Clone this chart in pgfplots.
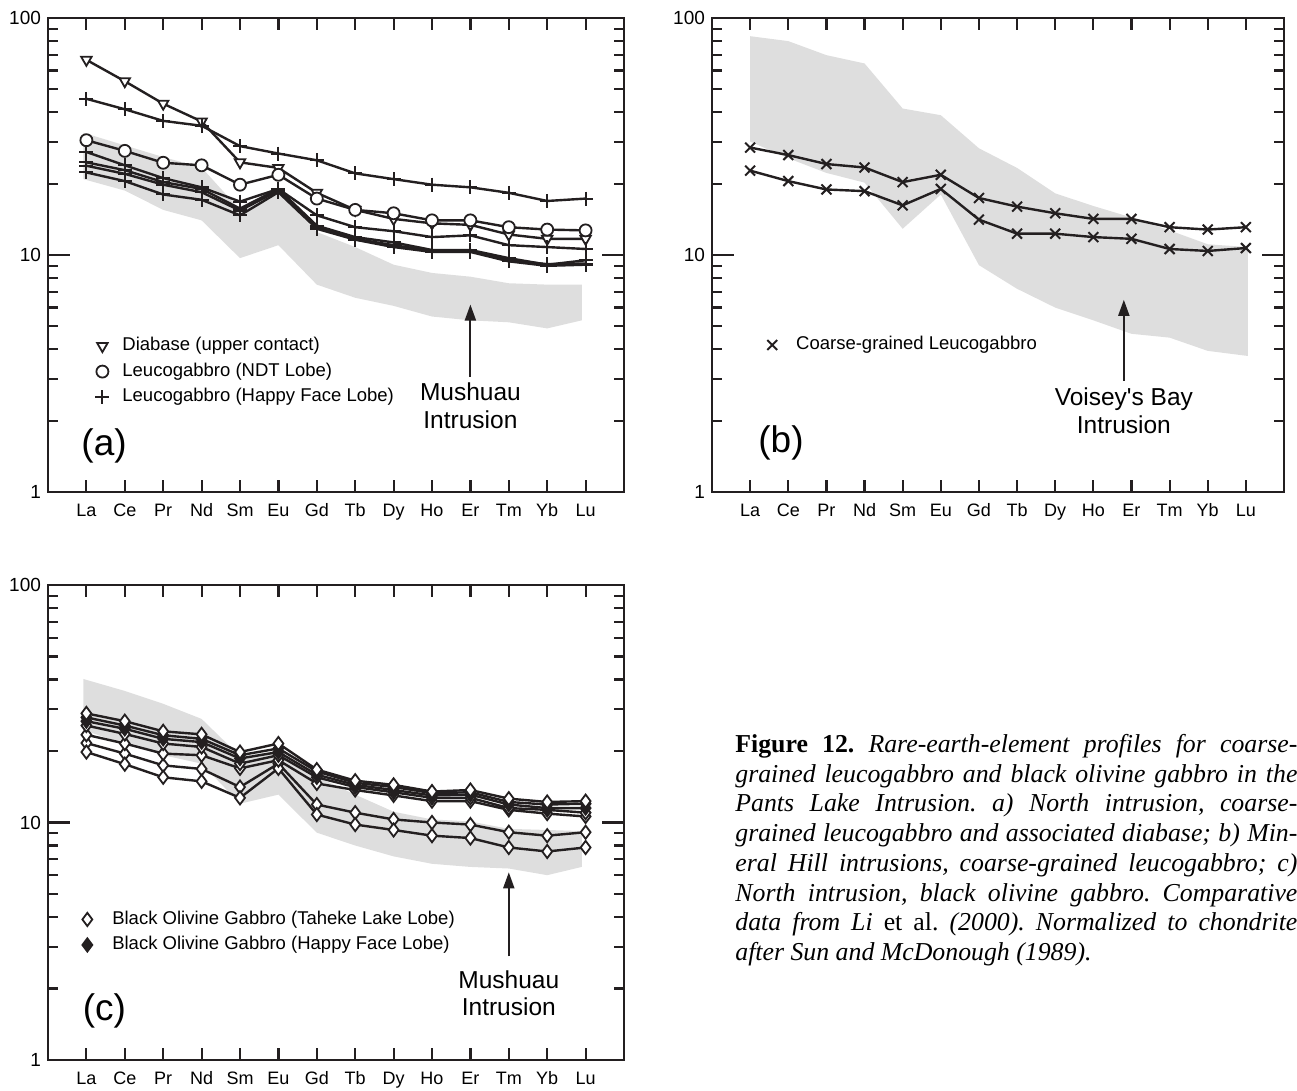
\documentclass[border=0pt]{standalone}
\usepackage{fontspec}
\setmainfont{Liberation Sans}
\newfontfamily\captionfont{Liberation Serif}
\usepackage{pgfplots}
\usepackage{pgfplotstable}
\pgfplotsset{compat=1.18}
\usetikzlibrary{arrows.meta}

\definecolor{ink}{RGB}{35,31,32}
\definecolor{bandgray}{RGB}{222,222,222}

% ---------------- chondrite-normalised REE data (La ... Lu at x = 0 ... 13)
% (a) North intrusion
\pgfplotstableread{
x  dia   ndt   hfa   hfb   hfc   hfd   hfe
0  66.6  30.5  45.6  27.2  24.6  23.8  22.3
1  54.1  27.5  41.2  23.9  22.8  22.0  20.5
2  43.5  24.5  36.8  21.1  20.3  19.8  18.0
3  36.6  23.9  35.1  19.3  19.0  18.4  17.1
4  24.6  19.8  28.8  16.8  15.7  15.4  14.7
5  23.3  21.8  26.8  19.0  19.0  18.7  18.4
6  18.3  17.3  25.1  14.7  13.3  13.1  12.9
7  15.5  15.5  22.1  13.1  11.9  11.7  11.6
8  14.2  15.0  20.9  12.6  11.3  11.0  10.8
9  13.6  14.0  19.8  11.9  10.5  10.4  10.3
10 13.4  14.0  19.3  12.1  10.5  10.4  10.3
11 12.2  13.1  18.3  11.0   9.7   9.5   9.4
12 11.7  12.8  16.9  10.8   9.1   9.15  9.0
13 11.7  12.7  17.3  10.6   9.5   9.2   9.1
}\northA
% Mushuau Intrusion field (outline, upper edge then lower edge)
\pgfplotstableread{
x     y
-0.08 32.8
1     29.0
2     25.9
3     23.4
4     15.5
5     18.5
6     12.5
7     10.8
8     9.1
9     8.4
10    8.1
11    7.6
12    7.5
12.9  7.5
12.9  5.3
12    4.9
11    5.2
10    5.3
9     5.5
8     6.1
7     6.6
6     7.5
5     11.0
4     9.7
3     14.0
2     15.5
1     18.7
-0.08 20.9
}\mushuauA

% (b) Mineral Hill intrusions
\pgfplotstableread{
x  up    lo
0  28.4  22.7
1  26.4  20.5
2  24.2  18.9
3  23.4  18.6
4  20.3  16.2
5  21.8  19.0
6  17.4  14.1
7  16.0  12.3
8  15.0  12.3
9  14.2  11.9
10 14.2  11.7
11 13.1  10.6
12 12.8  10.4
13 13.1  10.7
}\mineralB
% Voisey's Bay Intrusion field
\pgfplotstableread{
x     y
0     83.8
1     79.9
2     69.7
3     64.3
4     41.5
5     38.9
6     28.2
7     23.3
8     18.2
9     16.1
10    14.4
11    12.7
12    11.1
13.05 10.8
13.05 3.75
12    3.94
11    4.48
10    4.65
9     5.3
8     6.0
7     7.2
6     9.06
5     18.0
4     12.9
3     20.2
2     22.2
1     25.6
0     30.1
}\voiseyB

% (c) North intrusion, black olivine gabbro
\pgfplotstableread{
x  ua    ub    uc    ud    ue    ta    tb
0  28.8  27.7  26.7  25.6  23.4  21.6  19.8
1  26.7  25.6  24.8  23.6  21.5  19.5  17.6
2  24.2  23.3  22.5  21.5  19.5  17.4  15.5
3  23.5  22.5  21.8  20.8  19.2  16.8  14.9
4  19.8  19.2  18.6  17.7  16.9  14.1  12.7
5  21.5  20.5  19.8  19.2  18.3  17.7  16.9
6  16.7  16.4  15.9  15.5  14.6  11.9  10.8
7  15.0  14.7  14.4  14.1  13.7  11.0   9.8
8  14.4  14.1  13.7  13.4  13.0  10.3   9.3
9  13.5  13.3  13.0  12.7  12.3  10.0   8.8
10 13.7  13.4  13.1  12.7  12.3   9.8   8.6
11 12.6  12.2  11.9  11.5  11.3   9.1   7.85
12 12.2  11.9  11.5  11.3  10.9   8.8   7.55
13 12.3  12.0  11.5  11.0  10.6   9.1   7.85
}\northC
\pgfplotstableread{
x     y
-0.08 40.2
1     35.8
2     31.6
3     27.3
4     19.0
5     20.0
6     15.6
7     13.1
8     11.1
9     10.3
10    10.1
11    9.4
12    9.3
12.9  9.2
12.9  6.5
12    6.0
11    6.4
10    6.5
9     6.7
8     7.2
7     8.0
6     9.06
5     13.1
4     12.0
3     17.7
2     19.2
1     21.4
-0.08 24.5
}\mushuauC

\pgfplotsset{
  reeaxis/.style={
    scale only axis,
    xmin=-1, xmax=14,
    ymin=1, ymax=100,
    xtick={0,...,13},
    xticklabels={La,Ce,Pr,Nd,Sm,Eu,Gd,Tb,Dy,Ho,Er,Tm,Yb,Lu},
    ytick={1,10,100},
    yticklabels={1,10,100},
    minor ytick={2,3,4,5,6,7,8,9,20,30,40,50,60,70,80,90},
    tick align=inside,
    major tick length=6pt,
    minor tick length=5pt,
    axis line style={draw=ink, line width=1.3pt},
    tick style={draw=ink, line width=1.1pt},
    xticklabel style={font=\fontsize{9}{10}\selectfont, inner sep=0pt,
      text height=6.5pt, text depth=0pt, yshift=-5.75pt},
    yticklabel style={font=\fontsize{9.5}{11}\selectfont},
    clip=false,
    legend cell align=left,
    legend style={draw=none, fill=none, inner sep=0pt, row sep=3.95pt,
      column sep=6.5pt, font=\fontsize{9.25}{11}\selectfont,
      nodes={inner sep=0pt, text height=6.8pt, text depth=2pt}},
    legend image code/.code={\draw[##1,/tikz/only marks] plot coordinates {(0pt,0pt)};},
  },
  field/.style={fill=bandgray, draw=none, mark=none},
  reeline/.style={draw=ink, line width=1.2pt},
  diabase/.style={reeline, mark=triangle*, mark size=3pt,
    mark options={solid, rotate=180, fill=white, draw=ink, line width=0.9pt}},
  ndt/.style={reeline, mark=*, mark size=3pt,
    mark options={solid, fill=white, draw=ink, line width=0.9pt}},
  happy/.style={reeline, mark=+, mark size=3.5pt,
    mark options={solid, draw=ink, line width=1pt}},
  coarse/.style={reeline, mark=x, mark size=3.5pt,
    mark options={solid, draw=ink, line width=1pt}},
  taheke/.style={reeline, mark=diamond*, mark size=3.3pt,
    mark options={solid, fill=white, draw=ink, line width=0.9pt}},
  happyc/.style={reeline, mark=diamond*, mark size=3.3pt,
    mark options={solid, fill=ink, draw=ink, line width=0.9pt}},
}
\tikzset{
  notetext/.style={font=\fontsize{12.25}{14}\selectfont, inner sep=0pt},
  paneltag/.style={font=\fontsize{18.5}{21}\selectfont, inner sep=0pt},
  pointer/.style={ink, line width=1pt, -{Triangle[length=8pt,width=5.5pt]}},
  longtick/.style={ink, line width=1.1pt},
}

\begin{document}
\begin{tikzpicture}
\path[use as bounding box] (0pt,0pt) rectangle (648.5pt,545.5pt);

% ------------------------------------------------------------ (a)
\begin{semilogyaxis}[reeaxis, at={(24pt,299.5pt)}, anchor=south west,
  width=288pt, height=237pt,
  legend style={at={(0.0816,0.254)}, anchor=west}]
\addplot[field, forget plot] table[x=x,y=y] {\mushuauA};
\addplot[diabase] table[x=x,y=dia] {\northA};
\addlegendentry{Diabase (upper contact)}
\addplot[ndt] table[x=x,y=ndt] {\northA};
\addlegendentry{Leucogabbro (NDT Lobe)}
\addplot[happy] table[x=x,y=hfa] {\northA};
\addlegendentry{Leucogabbro (Happy Face Lobe)}
\addplot[happy, forget plot] table[x=x,y=hfb] {\northA};
\addplot[happy, forget plot] table[x=x,y=hfc] {\northA};
\addplot[happy, forget plot] table[x=x,y=hfd] {\northA};
\addplot[happy, forget plot] table[x=x,y=hfe] {\northA};
\draw[longtick] (rel axis cs:0,0.5) -- ++(11pt,0pt);
\draw[longtick] (rel axis cs:1,0.5) -- ++(-11pt,0pt);
\draw[pointer] (axis cs:10,3.06) -- (axis cs:10,6.18);
\node[notetext] at (axis cs:10,2.65) {Mushuau};
\node[notetext] at (axis cs:10,2.02) {Intrusion};
\node[paneltag] at (axis cs:0.46,1.57) {(a)};
\end{semilogyaxis}

% ------------------------------------------------------------ (b)
\begin{semilogyaxis}[reeaxis, at={(356pt,299.5pt)}, anchor=south west,
  width=286pt, height=237pt,
  legend style={at={(0.096,0.310)}, anchor=west, column sep=9.5pt}]
\addplot[field, forget plot] table[x=x,y=y] {\voiseyB};
\addplot[coarse] table[x=x,y=up] {\mineralB};
\addlegendentry{Coarse-grained Leucogabbro}
\addplot[coarse, forget plot] table[x=x,y=lo] {\mineralB};
\draw[longtick] (rel axis cs:0,0.5) -- ++(11pt,0pt);
\draw[longtick] (rel axis cs:1,0.5) -- ++(-11pt,0pt);
\draw[pointer] (axis cs:9.8,2.95) -- (axis cs:9.8,6.47);
\node[notetext] at (axis cs:9.8,2.47) {Voisey\textquotesingle s Bay};
\node[notetext] at (axis cs:9.8,1.92) {Intrusion};
\node[paneltag] at (axis cs:0.81,1.61) {(b)};
\end{semilogyaxis}

% ------------------------------------------------------------ (c)
\begin{semilogyaxis}[reeaxis, at={(24pt,15.5pt)}, anchor=south west,
  width=288pt, height=237.5pt,
  legend style={at={(0.059,0.269)}, anchor=west, column sep=10pt}]
\addplot[field, forget plot] table[x=x,y=y] {\mushuauC};
\addplot[taheke] table[x=x,y=ta] {\northC};
\addlegendentry{Black Olivine Gabbro (Taheke Lake Lobe)}
\addplot[happyc] table[x=x,y=ub] {\northC};
\addlegendentry{Black Olivine Gabbro (Happy Face Lobe)}
\addplot[taheke, forget plot] table[x=x,y=tb] {\northC};
\addplot[taheke, forget plot] table[x=x,y=ue] {\northC};
\addplot[taheke, forget plot] table[x=x,y=ud] {\northC};
\addplot[happyc, forget plot] table[x=x,y=uc] {\northC};
\addplot[taheke, forget plot] table[x=x,y=ua] {\northC};
\draw[longtick] (rel axis cs:0,0.5) -- ++(11pt,0pt);
\draw[longtick] (rel axis cs:1,0.5) -- ++(-11pt,0pt);
\draw[pointer] (axis cs:11,2.73) -- (axis cs:11,6.17);
\node[notetext] at (axis cs:11,2.18) {Mushuau};
\node[notetext] at (axis cs:11,1.67) {Intrusion};
\node[paneltag] at (axis cs:0.47,1.61) {(c)};
\end{semilogyaxis}

% ------------------------------------------------------------ caption
\node[anchor=north west, inner sep=0pt, text width=281pt, align=justify,
  font=\captionfont\fontsize{12.9}{14.85}\selectfont]
  at (367.5pt,178.5pt) {\frenchspacing\tolerance=10000\hyphenpenalty=10000
  \textbf{Figure 12.} \textit{Rare-earth-element profiles for coarse-}\linebreak
  \textit{grained leucogabbro and black olivine gabbro in the}\linebreak
  \textit{Pants Lake Intrusion. a) North intrusion, coarse-}\linebreak
  \textit{grained leucogabbro and associated diabase; b) Min-}\linebreak
  \textit{eral Hill intrusions, coarse-grained leucogabbro; c)}\linebreak
  \textit{North intrusion, black olivine gabbro. Comparative}\linebreak
  \textit{data from Li} et al. \textit{(2000). Normalized to chondrite}\linebreak
  \textit{after Sun and McDonough (1989).}};
\end{tikzpicture}
\end{document}
